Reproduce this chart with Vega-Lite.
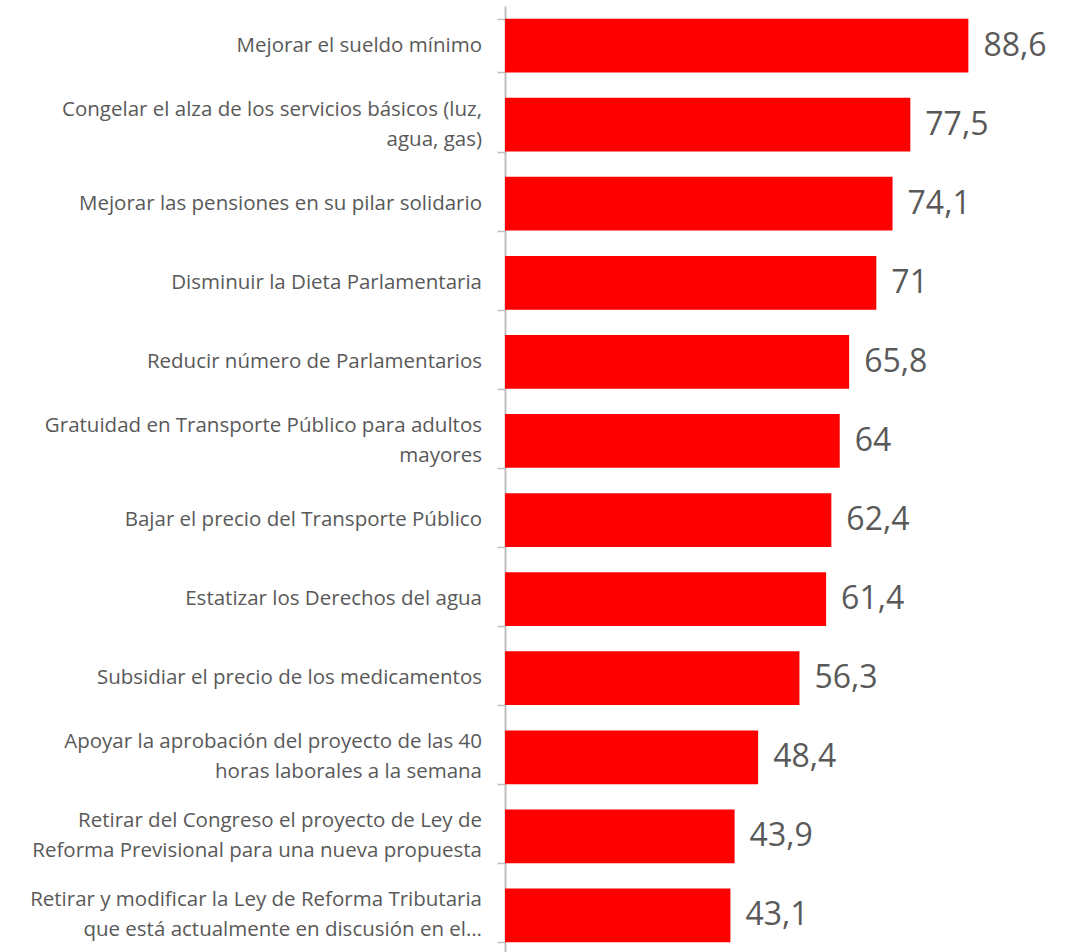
{
  "$schema": "https://vega.github.io/schema/vega-lite/v6.json",
  "autosize": "none",
  "padding": {"left": 505, "top": 6, "right": 46, "bottom": 0},
  "width": 523,
  "height": 946,
  "config": {
    "view": {"stroke": null},
    "font": "Open Sans",
    "locale": {"number": {"decimal": ",", "thousands": ".", "grouping": [3], "currency": ["", " €"]}}
  },
  "data": {
    "values": [
      {"medida": "Mejorar el sueldo mínimo", "valor": 88.6},
      {"medida": "Congelar el alza de los servicios básicos (luz,|agua, gas)", "valor": 77.5},
      {"medida": "Mejorar las pensiones en su pilar solidario", "valor": 74.1},
      {"medida": "Disminuir la Dieta Parlamentaria", "valor": 71},
      {"medida": "Reducir número de Parlamentarios", "valor": 65.8},
      {"medida": "Gratuidad en Transporte Público para adultos|mayores", "valor": 64},
      {"medida": "Bajar el precio del Transporte Público", "valor": 62.4},
      {"medida": "Estatizar los Derechos del agua", "valor": 61.4},
      {"medida": "Subsidiar el precio de los medicamentos", "valor": 56.3},
      {"medida": "Apoyar la aprobación del proyecto de las 40|horas laborales a la semana", "valor": 48.4},
      {"medida": "Retirar del Congreso el proyecto de Ley de|Reforma Previsional para una nueva propuesta", "valor": 43.9},
      {"medida": "Retirar y modificar la Ley de Reforma Tributaria|que está actualmente en discusión en el…", "valor": 43.1}
    ]
  },
  "encoding": {
    "y": {
      "field": "medida",
      "type": "nominal",
      "sort": null,
      "scale": {"paddingInner": 0.32, "paddingOuter": 0.16, "range": [0, 949]},
      "axis": {
        "title": null,
        "labels": false,
        "tickSize": 8,
        "tickBand": "extent",
        "tickColor": "#bfbfbf",
        "tickWidth": 1.5,
        "domainColor": "#bfbfbf",
        "domainWidth": 2
      }
    }
  },
  "layer": [
    {
      "mark": {"type": "bar", "color": "#ff0000"},
      "encoding": {
        "x": {"field": "valor", "type": "quantitative", "scale": {"domain": [0, 100]}, "axis": null}
      }
    },
    {
      "mark": {"type": "text", "align": "left", "baseline": "middle", "dx": 15, "fontSize": 32, "color": "#595959"},
      "encoding": {
        "x": {"field": "valor", "type": "quantitative"},
        "text": {"field": "valor", "type": "quantitative", "format": "~f"}
      }
    },
    {
      "transform": [{"filter": "indexof(datum.medida, '|') < 0"}],
      "mark": {"type": "text", "align": "right", "baseline": "middle", "dx": -23, "fontSize": 20.5, "color": "#595959"},
      "encoding": {
        "x": {"datum": 0, "type": "quantitative"},
        "text": {"field": "medida", "type": "nominal"}
      }
    },
    {
      "transform": [{"filter": "indexof(datum.medida, '|') >= 0"}],
      "mark": {"type": "text", "align": "right", "baseline": "middle", "dx": -23, "dy": -15, "lineBreak": "|", "lineHeight": 30, "fontSize": 20.5, "color": "#595959"},
      "encoding": {
        "x": {"datum": 0, "type": "quantitative"},
        "text": {"field": "medida", "type": "nominal"}
      }
    }
  ]
}
